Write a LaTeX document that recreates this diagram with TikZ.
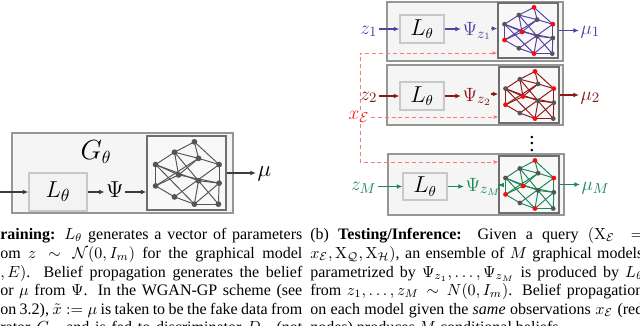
\documentclass[tikz,border=0pt]{standalone}
\usepackage[no-math]{fontspec}
\setmainfont{Liberation Serif}
\usetikzlibrary{arrows.meta}
\definecolor{rowA}{RGB}{88,64,160}
\definecolor{rowB}{RGB}{140,24,24}
\definecolor{rowC}{RGB}{28,135,88}
\definecolor{nred}{RGB}{250,10,10}
\definecolor{ngray}{RGB}{85,85,85}
\definecolor{boxfill}{RGB}{245,245,245}
\definecolor{boxdraw}{RGB}{150,150,150}
\definecolor{lfill}{RGB}{243,243,243}
\definecolor{ldraw}{RGB}{200,200,200}
\definecolor{nfill}{RGB}{248,248,248}
\definecolor{ndraw}{RGB}{110,110,110}
\definecolor{dashred}{RGB}{255,120,120}
\definecolor{xred}{RGB}{255,30,30}
\definecolor{arrgray}{RGB}{60,60,60}
\def\pxu{0.625pt}
\tikzset{
 outerbox/.style={draw=boxdraw, fill=boxfill, line width=1pt, inner sep=0pt},
 lbox/.style={draw=ldraw, fill=lfill, line width=0.7pt, inner sep=0pt},
 netbox/.style={draw=ndraw, fill=nfill, line width=0.8pt, inner sep=0pt},
 arr/.style={-{Latex[length=3.5pt,width=3pt]}, line width=0.8pt},
 darr/.style={-{Latex[length=3pt,width=2.6pt]}, draw=dashred, dash pattern=on 2.5pt off 1.8pt, line width=0.6pt},
 lbl/.style={inner sep=0pt, outer sep=1pt},
 capl/.style={anchor=base west, inner sep=0pt, font=\fontsize{10}{12}\selectfont},
 fig/.style={font=\fontsize{13}{15}\selectfont},
 figL/.style={font=\fontsize{13.5}{15}\selectfont},
 figP/.style={font=\fontsize{12.5}{14}\selectfont},
}
\newcommand\mynet[8]{%
 \begin{scope}[shift={(#2,#3)}, x={(#4*\pxu,0)}, y={(0,-#5*\pxu)}]
  \coordinate (#1A) at (0.600,0.079);
  \coordinate (#1B) at (0.348,0.219);
  \coordinate (#1C) at (0.652,0.302);
  \coordinate (#1D) at (0.913,0.386);
  \coordinate (#1E) at (0.109,0.386);
  \coordinate (#1F) at (0.400,0.526);
  \coordinate (#1G) at (0.652,0.605);
  \coordinate (#1H) at (0.913,0.637);
  \coordinate (#1I) at (0.109,0.674);
  \coordinate (#1J) at (0.348,0.823);
  \coordinate (#1K) at (0.600,0.921);
  \coordinate (#1L) at (0.904,0.921);
  \foreach \a/\b in {A/B,A/C,A/D,B/E,B/C,C/D,B/F,B/G,E/I,E/F,E/G,E/K,I/C,I/J,F/C,F/H,D/J,D/H,H/L,H/G,G/L,G/K,J/K,K/L,I/F,H/K}
   \draw[#6, line width=0.6pt] (#1\a) -- (#1\b);
  \foreach \n/\c in {A/#7,B/ngray,C/ngray,D/#7,E/ngray,F/#7,G/ngray,H/ngray,I/#7,J/ngray,K/#7,L/ngray}
   \node[circle, fill=\c, inner sep=0pt, minimum size=#8] (#1n\n) at (#1\n) {};
 \end{scope}}
\begin{document}
\begin{tikzpicture}[x=0.625pt, y=-0.625pt]
\useasboundingbox (0,0) rectangle (640,326);
\fill[white] (0,0) rectangle (640,326);

% ---------- (a) training ----------
\node[outerbox, minimum width=221*\pxu, minimum height=80*\pxu] (gbox) at (122.5,173) {};
\node[font=\fontsize{16}{18}\selectfont] (gth) at (96,152) {$G_\theta$};
\node[lbox, font=\fontsize{15}{17}\selectfont, minimum width=58*\pxu, minimum height=38*\pxu] (lb0) at (58,192) {$L_\theta$};
\node[font=\fontsize{15}{17}\selectfont, lbl] (psi0) at (115,190) {$\Psi$};
\node[netbox, minimum width=79*\pxu, minimum height=74*\pxu] (net0) at (186.5,173) {};
\mynet{a}{147}{136}{79}{74}{ngray}{ngray}{3.6pt}
\node[font=\fontsize{14}{16}\selectfont, lbl, anchor=base west] (mu0) at (256,176.5) {$\mu$};
\coordinate (in0) at (-3,192);
\draw[arr, arrgray] (in0) -- (lb0.west);
\draw[arr, arrgray] (lb0.east) -- (psi0.west |- lb0.east);
\draw[arr, arrgray] (psi0.east |- lb0.east) -- (net0.west |- lb0.east);
\draw[arr, arrgray] (net0.east) -- (net0.east -| mu0.west);

% ---------- (b) testing ----------
% row 1
\node[outerbox, minimum width=176*\pxu, minimum height=59*\pxu] (ob1) at (475,31.5) {};
\node[lbox, figL, minimum width=44*\pxu, minimum height=28*\pxu] (lb1) at (422,29) {$L_\theta$};
\node[netbox, minimum width=60*\pxu, minimum height=55*\pxu] (net1) at (528,30.5) {};
\mynet{b}{498}{3}{60}{55}{rowA}{nred}{3pt}
\node[fig, lbl, anchor=base east, text=rowA] (z1) at (379,34) {$z_1$};
\node[figP, lbl, anchor=base west, text=rowA] (psi1) at (461,35.5) {$\Psi_{z_1}$};
\node[fig, lbl, anchor=base west, text=rowA] (mu1) at (579,34) {$\mu_1$};
\coordinate (p1) at (0,28.5);
\draw[arr, rowA] (z1.east |- lb1.west) -- (lb1.west);
\draw[arr, rowA] (lb1.east) -- (psi1.west |- lb1.east);
\draw[arr, rowA] ([xshift=-2*\pxu]psi1.east |- p1) -- (net1.west |- p1);
\draw[arr, rowA] (net1.east) -- (net1.east -| mu1.west);
% row 2
\node[outerbox, minimum width=176*\pxu, minimum height=60*\pxu] (ob2) at (475,95) {};
\node[lbox, figL, minimum width=44*\pxu, minimum height=28*\pxu] (lb2) at (422,96) {$L_\theta$};
\node[netbox, minimum width=60*\pxu, minimum height=56*\pxu] (net2) at (529,95) {};
\mynet{c}{499}{67}{60}{56}{rowB}{nred}{3pt}
\node[fig, lbl, anchor=base east, text=rowB] (z2) at (379,100) {$z_2$};
\node[figP, lbl, anchor=base west, text=rowB] (psi2) at (461,101) {$\Psi_{z_2}$};
\node[fig, lbl, anchor=base west, text=rowB] (mu2) at (579,100) {$\mu_2$};
\coordinate (p2) at (0,94);
\draw[arr, rowB] (z2.east |- lb2.west) -- (lb2.west);
\draw[arr, rowB] (lb2.east) -- (psi2.west |- lb2.east);
\draw[arr, rowB] ([xshift=-2*\pxu]psi2.east |- p2) -- (net2.west |- p2);
\draw[arr, rowB] (net2.east) -- (net2.east -| mu2.west);
% dots
\node[fig, inner sep=0pt] (dots) at (532,139) {$\vdots$};
% row 3
\node[outerbox, minimum width=176*\pxu, minimum height=61*\pxu] (ob3) at (476,184.5) {};
\node[lbox, figL, minimum width=44*\pxu, minimum height=27*\pxu] (lb3) at (425,186.5) {$L_\theta$};
\node[netbox, minimum width=60*\pxu, minimum height=57*\pxu] (net3) at (529,184.5) {};
\mynet{d}{499}{156}{60}{57}{rowC}{nred}{3pt}
\node[fig, lbl, anchor=base east, text=rowC] (z3) at (378,190.5) {$z_M$};
\node[figP, lbl, anchor=base west, text=rowC] (psi3) at (464,191) {$\Psi_{z_M}$};
\node[fig, lbl, anchor=base west, text=rowC] (mu3) at (580,190.5) {$\mu_M$};
\coordinate (p3) at (0,185);
\draw[arr, rowC] (z3.east |- lb3.west) -- (lb3.west);
\draw[arr, rowC] (lb3.east) -- (psi3.west |- lb3.east);
\draw[arr, rowC] ([xshift=-4*\pxu]psi3.east |- p3) -- (net3.west |- p3);
\draw[arr, rowC] (net3.east) -- (net3.east -| mu3.west);
% evidence
\node[fig, lbl, text=xred] (xe) at (359,117) {$x_{\mathcal{E}}$};
\coordinate (dtop) at (360,53);
\coordinate (dbot) at (360,162);
\draw[darr] (xe.north -| dtop) -- (dtop) -- (net1.west |- dtop);
\draw[darr] (xe.south -| dbot) -- (dbot) -- (net3.west |- dbot);
\draw[darr] (xe.east) -- (net2.west |- xe.east);

% ---------- captions ----------
\node[capl] (la1) at (0,239) {\makebox[188.75pt][s]{\textbf{raining:} $L_\theta$ generates a vector of parameters}};
\node[capl] (la2) at (0,258) {\makebox[188.75pt][s]{om $z \sim \mathcal{N}(0,I_m)$ for the graphical model}};
\node[capl] (la3) at (0,277) {\makebox[188.75pt][s]{$,E)$. Belief propagation generates the belief}};
\node[capl] (la4) at (0,295.5) {\makebox[188.75pt][s]{or $\mu$ from $\Psi$. In the WGAN-GP scheme (see}};
\node[capl] (la5) at (0,314) {\makebox[188.75pt][s]{on 3.2), $\tilde{x} := \mu$ is taken to be the fake data from}};
\node[capl] (la6) at (0,332.5) {\makebox[188.75pt][s]{rator $G_\theta$, and is fed to discriminator $D_w$ (not}};

\node[capl] (lb1c) at (310,239) {\makebox[208.1pt][s]{(b) \textbf{Testing/Inference:} Given a query $(\mathrm{X}_{\mathcal{E}} =$}};
\node[capl] (lb2c) at (310,258) {\makebox[208.1pt][s]{$x_{\mathcal{E}}, \mathrm{X}_{\mathcal{Q}}, \mathrm{X}_{\mathcal{H}})$, an ensemble of $M$ graphical models}};
\node[capl] (lb3c) at (310,277) {\makebox[208.1pt][s]{parametrized by $\Psi_{z_1},\ldots,\Psi_{z_M}$ is produced by $L_\theta$}};
\node[capl] (lb4c) at (310,295.5) {\makebox[208.1pt][s]{from $z_1,\ldots,z_M \sim N(0,I_m)$. Belief propagation}};
\node[capl] (lb5c) at (310,314) {\makebox[208.1pt][s]{on each model given the \emph{same} observations $x_{\mathcal{E}}$ (red}};
\node[capl] (lb6c) at (310,332.5) {nodes) produces $M$ conditional beliefs.};
\end{tikzpicture}
\end{document}
